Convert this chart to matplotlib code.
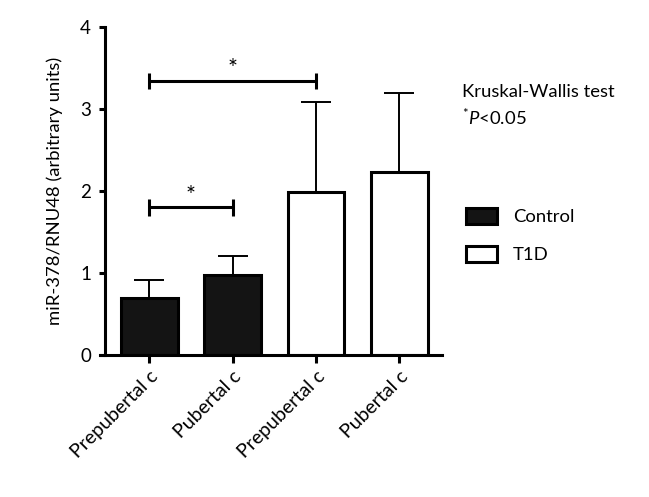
import numpy as np
import matplotlib
matplotlib.use('Agg')
import matplotlib.pyplot as plt
from matplotlib.patches import Patch

plt.rcParams['font.family'] = ['Lato', 'DejaVu Sans']
plt.rcParams['mathtext.fontset'] = 'custom'
plt.rcParams['mathtext.rm'] = 'Lato'
plt.rcParams['mathtext.it'] = 'Lato:italic'

# data
groups = ['Prepubertal c', 'Pubertal c', 'Prepubertal c', 'Pubertal c']
means = [0.69, 0.98, 1.99, 2.23]
sd = [0.22, 0.23, 1.09, 0.96]
fills = ['#141414', '#141414', 'white', 'white']
legend_labels = ['Control', 'T1D']
# significance brackets (group index pairs) and their heights
brackets = [(0, 2, 3.34), (0, 1, 1.80)]

fig = plt.figure(figsize=(6.49, 4.97), dpi=100)
ax = fig.add_axes([100 / 649, 1 - 355 / 497, 342 / 649, 328 / 497])

x = np.arange(len(groups))
ax.errorbar(x, means, yerr=[np.zeros(len(sd)), sd], fmt='none', ecolor='black',
            elinewidth=1.4, capsize=10.5, capthick=1.4, zorder=1)
ax.bar(x, means, width=0.68, color=fills, edgecolor='black', linewidth=2.2, zorder=2)

for i, j, h in brackets:
    ax.plot([x[i], x[j]], [h, h], color='black', lw=2.2, solid_capstyle='butt')
    for k in (i, j):
        ax.plot([x[k], x[k]], [h - 0.1, h + 0.1], color='black', lw=2.2, solid_capstyle='butt')
    ax.text((x[i] + x[j]) / 2, h + 0.15, '*', ha='center', va='center', fontsize=17)

ax.set_xlim(-0.59, 3.51)
ax.set_ylim(0, 4)
ax.spines['left'].set_position(('data', -0.53))
ax.spines['top'].set_visible(False)
ax.spines['right'].set_visible(False)
for s in ('left', 'bottom'):
    ax.spines[s].set_linewidth(2.2)
ax.set_yticks([0, 1, 2, 3, 4])
ax.tick_params(axis='y', length=4, width=2.2, labelsize=13.5, pad=6)
ax.tick_params(axis='x', length=6, width=2.2, labelsize=14, pad=3)
ax.set_xticks(x)
ax.set_xticklabels(groups, rotation=45, ha='right', va='top', rotation_mode='anchor')
ax.set_ylabel('miR-378/RNU48 (arbitrary units)', fontsize=13.3, labelpad=12)

handles = [Patch(facecolor='#141414', edgecolor='black', linewidth=2.2),
           Patch(facecolor='white', edgecolor='black', linewidth=2.2)]
ax.legend(handles, legend_labels, loc='upper left', bbox_to_anchor=(466 / 649, 1 - 208 / 497),
          bbox_transform=fig.transFigure, frameon=False, fontsize=13.3,
          handlelength=1.7, handleheight=0.96, handletextpad=0.85, labelspacing=1.1,
          borderaxespad=0, borderpad=0)

fig.text(462 / 649, 1 - 92 / 497, 'Kruskal-Wallis test', fontsize=13.3, va='center')
fig.text(462 / 649, 1 - 117 / 497, r'$^{*}\mathit{P}$<0.05', fontsize=13.3, va='center')

fig.savefig('out.png', dpi=100)
